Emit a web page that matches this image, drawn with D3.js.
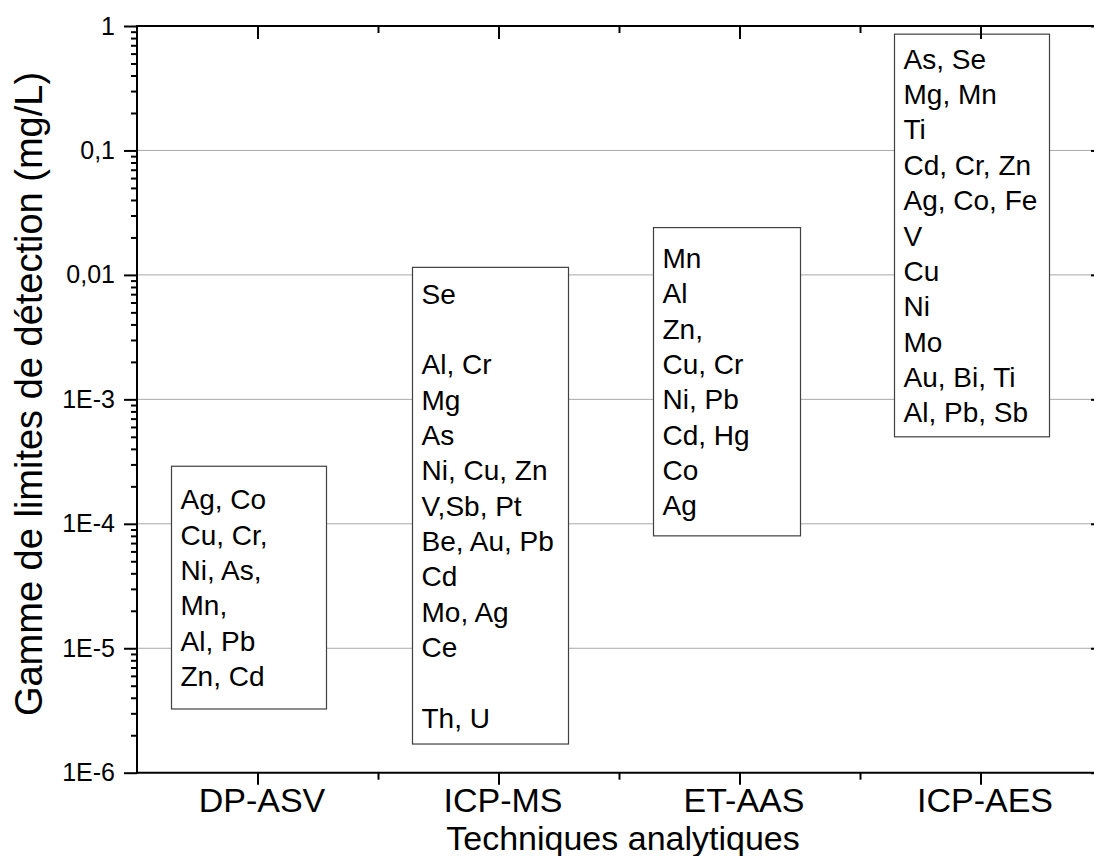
<!DOCTYPE html>
<html>
<head>
<meta charset="utf-8">
<script src="https://cdn.jsdelivr.net/npm/d3@7"></script>
<style>
  body { margin: 0; background: #fff; }
  text { font-family: "Liberation Sans", Arial, sans-serif; fill: #000; }
</style>
</head>
<body>
<div id="chart"></div>
<script>
// techniques on the x axis
var techniques = ["DP-ASV", "ICP-MS", "ET-AAS", "ICP-AES"];

// detection limit range for each technique (mg/L)
var rangeHigh = [2.9e-4, 1.15e-2, 2.4e-2, 0.86];
var rangeLow = [3.25e-6, 1.7e-6, 8e-5, 5e-4];

// elements listed in each box ("" = empty line)
var elements = [
    ["Ag, Co", "Cu, Cr,", "Ni, As,", "Mn,", "Al, Pb", "Zn, Cd"],
    ["Se", "", "Al, Cr", "Mg", "As", "Ni, Cu, Zn", "V,Sb, Pt", "Be, Au, Pb", "Cd", "Mo, Ag", "Ce", "", "Th, U"],
    ["Mn", "Al", "Zn,", "Cu, Cr", "Ni, Pb", "Cd, Hg", "Co", "Ag"],
    ["As, Se", "Mg, Mn", "Ti", "Cd, Cr, Zn", "Ag, Co, Fe", "V", "Cu", "Ni", "Mo", "Au, Bi, Ti", "Al, Pb, Sb"]
];

// y axis ticks
var yTicks = [1e-6, 1e-5, 1e-4, 1e-3, 1e-2, 1e-1, 1];
var yTickLabels = ["1E-6", "1E-5", "1E-4", "1E-3", "0,01", "0,1", "1"];

// set the dimensions
var W = 1094, H = 856;
var margin = { top: 26, left: 137 },
    plotRight = 1101,
    plotBottom = 772.7;

var svg = d3.select("#chart").append("svg")
    .attr("width", W)
    .attr("height", H);

var x = d3.scaleLinear().domain([0.5, 4.5]).range([margin.left, plotRight]);
var y = d3.scaleLog().domain([1e-6, 1]).range([plotBottom, margin.top]);

// gridlines
svg.append("g")
    .selectAll("line")
    .data(yTicks.slice(1, -1))
    .enter().append("line")
    .attr("x1", margin.left).attr("x2", plotRight)
    .attr("y1", function(d) { return y(d) })
    .attr("y2", function(d) { return y(d) })
    .attr("stroke", "#a8a8a8")
    .attr("stroke-width", 1);

// boxes
var boxWidth = [155, 156, 147, 155];
var lineH = 35.35, fontSize = 28;

var boxes = svg.append("g").selectAll("g")
    .data(techniques)
    .enter().append("g");

boxes.append("rect")
    .attr("x", function(d, i) { return x(i + 1) - 86 })
    .attr("y", function(d, i) { return y(rangeHigh[i]) })
    .attr("width", function(d, i) { return boxWidth[i] })
    .attr("height", function(d, i) { return y(rangeLow[i]) - y(rangeHigh[i]) })
    .attr("fill", "#fff")
    .attr("stroke", "#404040")
    .attr("stroke-width", 1.2);

boxes.each(function(d, i) {
    var g = d3.select(this);
    var lines = elements[i];
    var mid = (y(rangeLow[i]) + y(rangeHigh[i])) / 2;
    var first = mid - (lines.length - 1) / 2 * lineH + fontSize * 0.358;
    g.selectAll("text")
        .data(lines)
        .enter().append("text")
        .attr("x", x(i + 1) - 77)
        .attr("y", function(t, j) { return first + j * lineH })
        .style("font-size", fontSize + "px")
        .text(function(t) { return t });
});

// axes
function styleAxis(g) {
    g.select(".domain").remove();
    g.selectAll(".tick line").attr("stroke", "#000").attr("stroke-width", 2);
}

// bottom
svg.append("g")
    .attr("transform", "translate(0," + plotBottom + ")")
    .call(d3.axisBottom(x).tickValues([1, 2, 3, 4]).tickSize(12).tickPadding(10)
        .tickFormat(function(d) { return techniques[d - 1] }))
    .call(styleAxis)
    .call(function(g) {
        g.selectAll(".tick text")
            .attr("x", 4)
            .attr("dy", null)
            .attr("y", 812 - plotBottom)
            .style("font-size", "34px");
    });
svg.append("g")
    .attr("transform", "translate(0," + plotBottom + ")")
    .call(d3.axisBottom(x).tickValues([1.5, 2.5, 3.5]).tickSize(7).tickFormat(""))
    .call(styleAxis);

// top
svg.append("g")
    .attr("transform", "translate(0," + margin.top + ")")
    .call(d3.axisTop(x).tickValues([1, 2, 3, 4]).tickSize(-13).tickFormat(""))
    .call(styleAxis);
svg.append("g")
    .attr("transform", "translate(0," + margin.top + ")")
    .call(d3.axisTop(x).tickValues([1.5, 2.5, 3.5]).tickSize(-7).tickFormat(""))
    .call(styleAxis);

// left
var minorY = y.ticks().filter(function(d) { return yTicks.indexOf(d) < 0 });
svg.append("g")
    .attr("transform", "translate(" + margin.left + ",0)")
    .call(d3.axisLeft(y).tickValues(yTicks).tickSize(13).tickPadding(9)
        .tickFormat(function(d, i) { return yTickLabels[i] }))
    .call(styleAxis)
    .call(function(g) {
        g.selectAll(".tick text").style("font-size", "25px");
    });
svg.append("g")
    .attr("transform", "translate(" + margin.left + ",0)")
    .call(d3.axisLeft(y).tickValues(minorY).tickSize(6).tickFormat(""))
    .call(styleAxis);

// right (mostly outside the picture)
svg.append("g")
    .attr("transform", "translate(" + plotRight + ",0)")
    .call(d3.axisRight(y).tickValues(yTicks).tickSize(-10).tickFormat(""))
    .call(styleAxis);

// frame lines
svg.append("line")
    .attr("x1", margin.left - 1).attr("x2", plotRight)
    .attr("y1", margin.top).attr("y2", margin.top)
    .attr("stroke", "#000").attr("stroke-width", 2);
svg.append("line")
    .attr("x1", margin.left - 1).attr("x2", plotRight)
    .attr("y1", plotBottom).attr("y2", plotBottom)
    .attr("stroke", "#000").attr("stroke-width", 2);
svg.append("line")
    .attr("x1", margin.left).attr("x2", margin.left)
    .attr("y1", margin.top - 1).attr("y2", plotBottom + 1)
    .attr("stroke", "#000").attr("stroke-width", 2);
svg.append("line")
    .attr("x1", plotRight).attr("x2", plotRight)
    .attr("y1", margin.top - 1).attr("y2", plotBottom + 1)
    .attr("stroke", "#000").attr("stroke-width", 2);

// axis titles
svg.append("text")
    .attr("x", x(2.5) + 4)
    .attr("y", 850)
    .attr("text-anchor", "middle")
    .style("font-size", "34px")
    .text("Techniques analytiques");

svg.append("text")
    .attr("transform", "translate(42,394) rotate(-90)")
    .attr("text-anchor", "middle")
    .style("font-size", "38px")
    .text("Gamme de limites de détection (mg/L)");
</script>
</body>
</html>
